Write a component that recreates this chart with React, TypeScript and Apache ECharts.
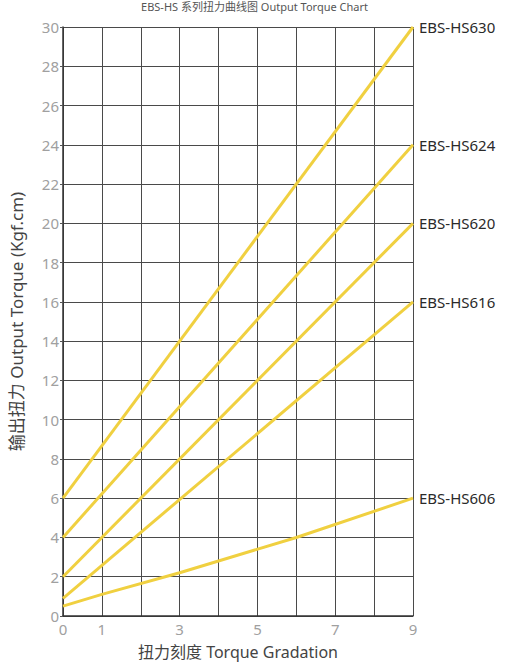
import React, { useEffect, useRef } from "react";
import * as echarts from "echarts";

const seriesNames = ["EBS-HS630", "EBS-HS624", "EBS-HS620", "EBS-HS616", "EBS-HS606"];
const hs630: [number, number][] = [[0, 6], [9, 30]];
const hs624: [number, number][] = [[0, 4], [9, 24]];
const hs620: [number, number][] = [[0, 2], [9, 20]];
const hs616: [number, number][] = [[0, 0.9], [9, 16]];
const hs606: [number, number][] = [[0, 0.5], [1, 1.1], [3, 2.2], [6, 4], [9, 6]];
const xTickLabels = [0, 1, 3, 5, 7, 9];

const FONT = "'Noto Sans', 'Noto Sans CJK SC', sans-serif";

export default function App() {
  const ref = useRef<HTMLDivElement>(null);
  useEffect(() => {
    document.body.style.margin = "0";
    const chart = echarts.init(ref.current!, null, { renderer: "svg" });
    const data = [hs630, hs624, hs620, hs616, hs606];
    chart.setOption({
      animation: false,
      textStyle: { fontFamily: FONT },
      graphic: [
        {
          type: "text",
          left: "center",
          top: 1,
          style: {
            text: "EBS-HS 系列扭力曲线图 Output Torque Chart",
            fontSize: 11,
            fill: "#555",
            fontFamily: FONT,
          },
        },
      ],
      grid: { left: 62, right: 96, top: 27, bottom: 48 },
      xAxis: {
        type: "value",
        min: 0,
        max: 9,
        interval: 1,
        name: "扭力刻度 Torque Gradation",
        nameLocation: "middle",
        nameGap: 28,
        nameTextStyle: { fontSize: 16, color: "#444", fontFamily: FONT },
        axisLine: { show: true, lineStyle: { color: "#333", width: 1.5 } },
        axisTick: { show: false },
        axisLabel: {
          color: "#a0a0a0",
          fontSize: 15,
          margin: 5,
          formatter: (v: number) => (xTickLabels.includes(v) ? String(v) : ""),
        },
        splitLine: { show: true, lineStyle: { color: "#4a4a4a", width: 1 } },
      },
      yAxis: {
        type: "value",
        min: 0,
        max: 30,
        interval: 2,
        name: "输出扭力 Output Torque (Kgf.cm)",
        nameLocation: "middle",
        nameGap: 38,
        nameTextStyle: { fontSize: 17, color: "#444", fontFamily: FONT },
        axisLine: { show: true, lineStyle: { color: "#333", width: 1.5 } },
        axisTick: { show: true, length: 3, lineStyle: { color: "#555" } },
        axisLabel: { color: "#a0a0a0", fontSize: 15, margin: 4 },
        splitLine: { show: true, lineStyle: { color: "#4a4a4a", width: 1 } },
      },
      series: seriesNames.map((name, i) => ({
        name,
        type: "line",
        data: data[i],
        symbol: "none",
        lineStyle: { color: "#F0D040", width: 3 },
        endLabel: {
          show: true,
          formatter: "{a}",
          color: "#2a2a2a",
          fontSize: 15,
          distance: 6,
          fontFamily: FONT,
        },
      })),
    });
    return () => chart.dispose();
  }, []);
  return <div ref={ref} style={{ width: 509, height: 665 }} />;
}
